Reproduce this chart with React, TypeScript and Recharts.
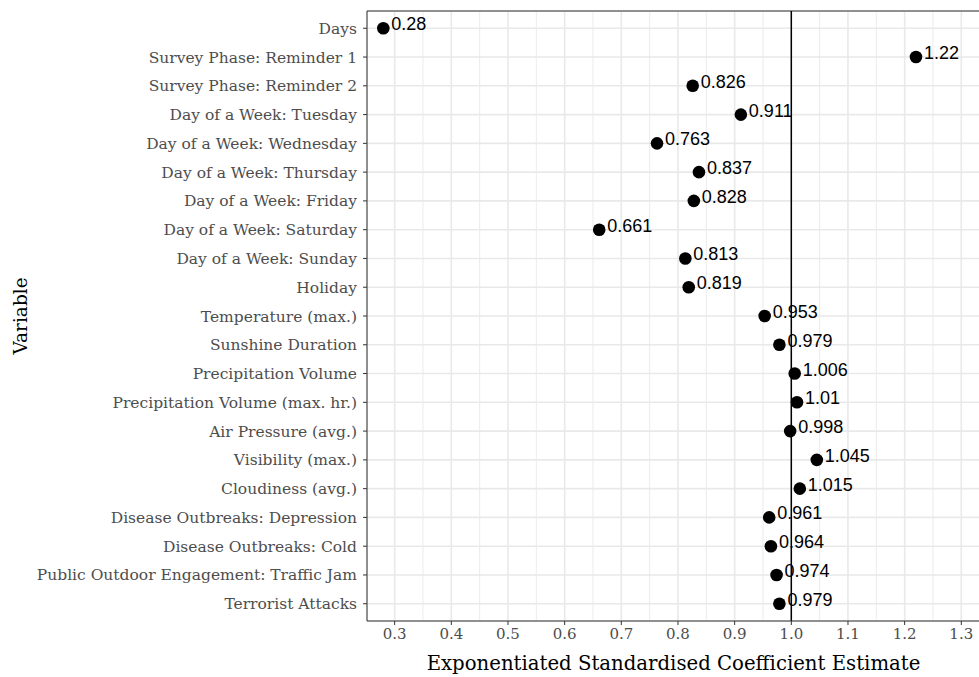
import { ScatterChart, Scatter, XAxis, YAxis, CartesianGrid, ReferenceLine } from 'recharts'

const variables = [
  'Days',
  'Survey Phase: Reminder 1',
  'Survey Phase: Reminder 2',
  'Day of a Week: Tuesday',
  'Day of a Week: Wednesday',
  'Day of a Week: Thursday',
  'Day of a Week: Friday',
  'Day of a Week: Saturday',
  'Day of a Week: Sunday',
  'Holiday',
  'Temperature (max.)',
  'Sunshine Duration',
  'Precipitation Volume',
  'Precipitation Volume (max. hr.)',
  'Air Pressure (avg.)',
  'Visibility (max.)',
  'Cloudiness (avg.)',
  'Disease Outbreaks: Depression',
  'Disease Outbreaks: Cold',
  'Public Outdoor Engagement: Traffic Jam',
  'Terrorist Attacks',
]

const estimates = [
  0.28, 1.22, 0.826, 0.911, 0.763, 0.837, 0.828, 0.661, 0.813, 0.819, 0.953,
  0.979, 1.006, 1.01, 0.998, 1.045, 1.015, 0.961, 0.964, 0.974, 0.979,
]

const xTicks = [0.3, 0.4, 0.5, 0.6, 0.7, 0.8, 0.9, 1.0, 1.1, 1.2, 1.3]
const xMinor = [0.35, 0.45, 0.55, 0.65, 0.75, 0.85, 0.95, 1.05, 1.15, 1.25]

const rows = variables.map((name, i) => ({ idx: i + 1, value: estimates[i], name }))
const yTicks = rows.map((r) => r.idx)

const SERIF = '"DejaVu Serif", serif'
const GRID = '#e9e9e9'

function Dot(props: any) {
  const { cx, cy, payload } = props
  return (
    <g>
      <circle cx={cx} cy={cy} r={6.3} fill="#000" />
      <text x={cx + 8} y={cy + 2} fontSize={18} fontFamily='"Liberation Sans", Arial, sans-serif' fill="#000">
        {String(payload.value)}
      </text>
    </g>
  )
}

function XTitle(props: any) {
  const { viewBox } = props
  return (
    <text x={viewBox.x + viewBox.width / 2} y={viewBox.y + 49} textAnchor="middle" fontSize={19.7} fontFamily={SERIF} fill="#000">
      Exponentiated Standardised Coefficient Estimate
    </text>
  )
}

function YTitle(props: any) {
  const { viewBox } = props
  const x = 20
  const y = viewBox.y + viewBox.height / 2
  return (
    <text x={x} y={y} transform={`rotate(-90, ${x}, ${y})`} textAnchor="middle" dominantBaseline="central" fontSize={18.5} fontFamily={SERIF} fill="#000">
      Variable
    </text>
  )
}

export default function App() {
  return (
    <div style={{ position: 'absolute', left: 0, top: 0, width: 979, height: 677, overflow: 'hidden', background: '#fff' }}>
      <ScatterChart width={990} height={677} margin={{ top: 11, right: 10, bottom: 0, left: 0 }}>
        <CartesianGrid stroke={GRID} strokeWidth={1.6} />
        {xMinor.map((v) => (
          <ReferenceLine key={v} x={v} stroke={GRID} strokeWidth={0.9} />
        ))}
        <XAxis
          type="number"
          dataKey="value"
          domain={[0.2512, 1.333]}
          ticks={xTicks}
          tickFormatter={(v: number) => v.toFixed(1)}
          height={56}
          tickSize={4}
          tickMargin={3}
          tickLine={{ stroke: '#333' }}
          axisLine={{ stroke: '#333' }}
          tick={{ fill: '#4d4d4d', fontSize: 15, fontFamily: SERIF }}
          label={<XTitle />}
        />
        <YAxis
          type="number"
          dataKey="idx"
          reversed
          domain={[0.4, 21.6]}
          ticks={yTicks}
          interval={0}
          tickFormatter={(v: number) => variables[v - 1]}
          width={367}
          tickSize={4}
          tickMargin={6}
          tickLine={{ stroke: '#333' }}
          axisLine={{ stroke: '#333' }}
          tick={{ fill: '#4d4d4d', fontSize: 15.5, fontFamily: SERIF }}
          label={<YTitle />}
        />
        <ReferenceLine y={0.4} stroke="#333" strokeWidth={1} />
        <Scatter data={rows} shape={<Dot />} isAnimationActive={false} />
        <ReferenceLine x={1} stroke="#000" strokeWidth={1.5} />
      </ScatterChart>
    </div>
  )
}
